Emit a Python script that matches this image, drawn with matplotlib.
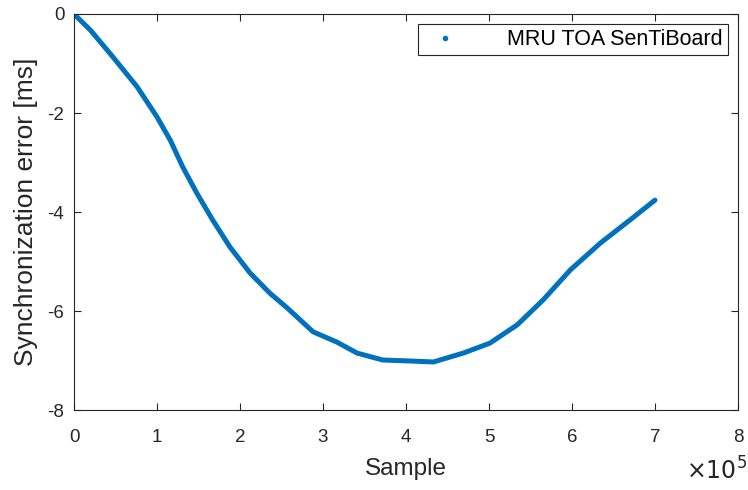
import matplotlib
matplotlib.use("Agg")
import matplotlib.pyplot as plt
from matplotlib.lines import Line2D
import numpy as np

# synchronization error vs. sample index (samples in units of 1e5)
sample = [0.0, 0.2, 0.45, 0.76, 1.0, 1.16, 1.31, 1.48, 1.67, 1.88, 2.12,
          2.36, 2.57, 2.88, 3.17, 3.41, 3.72, 4.05, 4.33, 4.69, 5.01, 5.34,
          5.65, 5.98, 6.34, 6.70, 7.0]
sync_err = [0.0, -0.33, -0.83, -1.47, -2.08, -2.55, -3.09, -3.62, -4.16,
            -4.71, -5.23, -5.64, -5.94, -6.42, -6.63, -6.85, -6.99, -7.01,
            -7.03, -6.85, -6.65, -6.28, -5.78, -5.17, -4.63, -4.16, -3.76]
XTICKS = list(range(0, 9))
YTICKS = [-8, -6, -4, -2, 0]
LABEL = "MRU TOA SenTiBoard"
BLUE = "#0072BD"
DARK = "#262626"

plt.rcParams["font.family"] = ["Liberation Sans", "DejaVu Sans"]

fig = plt.figure(figsize=(7.48, 4.90), dpi=100)
ax = fig.add_axes([74 / 748, 80 / 490, 664 / 748, 396 / 490])

ax.plot(np.array(sample), np.array(sync_err), "-", color=BLUE, lw=3.6,
        solid_capstyle="round", solid_joinstyle="round")

ax.set_xlim(0, 8)
ax.set_ylim(-8, 0)
ax.set_xticks(XTICKS)
ax.set_yticks(YTICKS)
ax.set_xticklabels([str(t) for t in XTICKS])
ax.set_yticklabels([str(t) for t in YTICKS])
ax.tick_params(direction="in", top=True, right=True, length=5, width=0.8,
               colors=DARK, labelsize=13.5)
ax.tick_params(axis="x", pad=14)
ax.tick_params(axis="y", pad=7)
for s in ax.spines.values():
    s.set_color(DARK)
    s.set_linewidth(0.8)

ax.set_xlabel("Sample", fontsize=17.5, color=DARK, labelpad=8)
ax.set_ylabel("Synchronization error [ms]", fontsize=19, color=DARK,
              labelpad=7)
fig.text(747 / 748, 1 - 480 / 490, r"$\times10^5$", fontsize=17, color=DARK,
         ha="right", va="baseline", math_fontfamily="dejavusans")

handle = Line2D([], [], ls="none", marker=".", color=BLUE, markersize=6)
leg = ax.legend([handle], [LABEL], loc="upper right", fontsize=15.5,
                fancybox=False, framealpha=1, edgecolor=DARK,
                borderaxespad=0.45, handletextpad=1.9, borderpad=0.25)
leg.get_frame().set_linewidth(0.8)

fig.savefig("out.png", dpi=100)
